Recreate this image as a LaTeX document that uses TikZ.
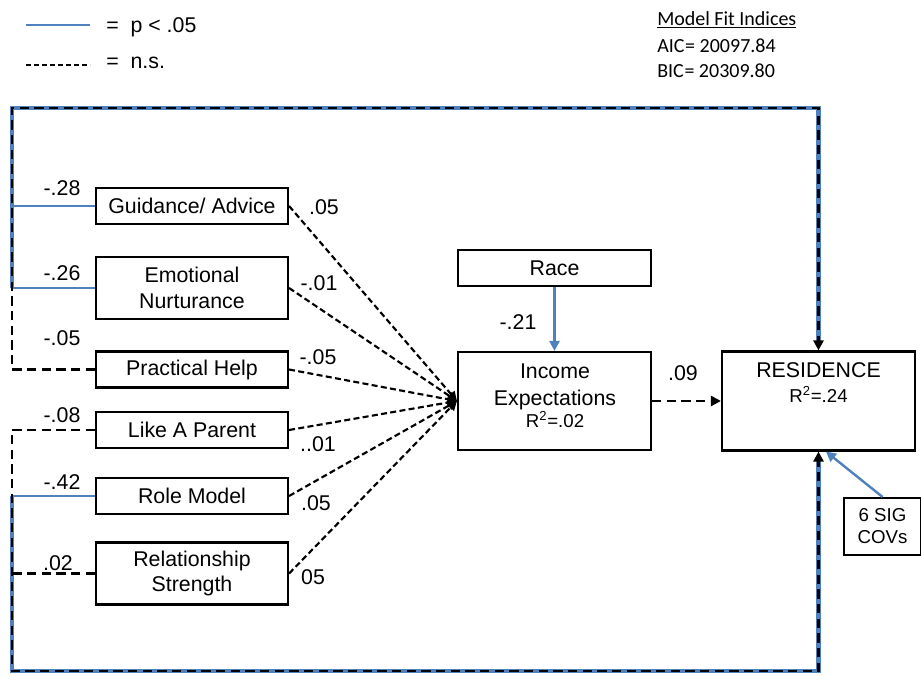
\documentclass[tikz,border=0pt]{standalone}
\usepackage{fontspec}
\setmainfont{Liberation Sans}
\newfontfamily\calib{Carlito}
\usetikzlibrary{arrows.meta}
\definecolor{sigblue}{RGB}{79,129,189}

\begin{document}
\begin{tikzpicture}[x=0.75pt,y=-0.75pt,
  every node/.style={font=\fontsize{16}{19}\selectfont},
  box/.style={draw, line width=1.6pt, align=center, inner sep=0pt,
              minimum width=144pt, minimum height=27pt},
  tall/.style={box, minimum height=46.5pt},
  lbl/.style={inner sep=0pt},
  small/.style={font=\fontsize{14}{16}\selectfont},
  sig/.style={draw=sigblue, line width=1.8pt},
  sigunder/.style={draw=sigblue, line width=3.2pt},
  ns/.style={draw=black, line width=2pt, dash pattern=on 7pt off 4pt},
  nsfine/.style={draw=black, line width=1.6pt, dash pattern=on 4.5pt off 2.5pt},
  tip/.style={-{Triangle[length=7.5pt,width=7.5pt]}},
  smalltip/.style={-{Triangle[length=7pt,width=7pt]}}
]
\useasboundingbox (0,0) rectangle (921,675);
\fill[white] (0,0) rectangle (921,675);

% legend
\coordinate (lgsa) at (26,25);
\coordinate (lgsb) at (90,25);
\coordinate (lgna) at (26,65);
\coordinate (lgnb) at (90,65);
\draw[sig, line width=2.2pt] (lgsa) -- (lgsb);
\draw[line width=1.8pt, dash pattern=on 4pt off 2pt] (lgna) -- (lgnb);
\node[lbl, anchor=west] (lgsig) at (106,27) {=~~p < .05};
\node[lbl, anchor=west] (lgns) at (106,63) {=~~n.s.};

% fit indices
\node[lbl, anchor=base west, font=\calib\fontsize{15}{18}\selectfont] (mfi) at (657,25) {\underline{Model Fit Indices}};
\node[lbl, anchor=base west, font=\calib\fontsize{15}{18}\selectfont] (aic) at (657,52) {AIC\kern0.5pt= 20097.84};
\node[lbl, anchor=base west, font=\calib\fontsize{15}{18}\selectfont] (bic) at (657,77) {BIC\kern0.5pt= 20309.80};

% predictors
\node[box] (guid) at (192,206) {Guidance/ Advice};
\node[tall] (emot) at (192,288) {Emotional\\Nurturance};
\node[box] (prac) at (192,369.5) {Practical Help};
\node[box] (like) at (192,430) {Like A Parent};
\node[box] (role) at (192,496) {Role Model};
\node[tall] (rel) at (192,573.5) {Relationship\\Strength};

% mediator and outcome
\node[box, minimum width=144.75pt] (race) at (554.5,268) {Race};
\node[box, minimum width=144.75pt, minimum height=73.5pt] (inc) at (554.5,401) {};
\node[lbl, anchor=base] (inca) at (555,378) {Income};
\node[lbl, anchor=base] (incb) at (555,405) {Expectations};
\node[lbl, anchor=base, small] (incc) at (555,427) {R\textsuperscript{2}=.02};

\node[box, minimum width=144.75pt, minimum height=74.25pt] (res) at (818.5,401) {};
\node[lbl, anchor=base] (resa) at (818.5,377) {RESIDENCE};
\node[lbl, anchor=base, small] (resb) at (818.5,402) {R\textsuperscript{2}=.24};

\node[box, minimum width=57.75pt, minimum height=42.75pt,
      font=\fontsize{14}{16.5}\selectfont] (cov) at (882.5,526.5) {6 SIG\\COVs};

% outer paths to RESIDENCE
\coordinate (tl) at (12,108);
\coordinate (bl) at (12,671);

\draw[sig] (guid.west) -- (guid.west -| tl);
\draw[sig] (emot.west) -- (emot.west -| tl);
\draw[sigunder, shorten >=7pt] (emot.west -| tl) -- (tl) -- (tl -| res.north) -- (res.north);
\draw[ns, tip] (prac.west) -- (prac.west -| tl) -- (tl) -- (tl -| res.north) -- (res.north);

\draw[sig] (role.west) -- (role.west -| bl);
\draw[sigunder, shorten >=7pt] (role.west -| bl) -- (bl) -- (bl -| res.south) -- (res.south);
\draw[ns, tip] (like.west) -- (like.west -| bl) -- (bl) -- (bl -| res.south) -- (res.south);
\draw[ns] (rel.west) -- (rel.west -| bl);

% paths to income expectations
\foreach \p in {guid,emot,prac,like,role,rel}
  \draw[nsfine, smalltip] (\p.east) -- (inc.west);
\draw[sig, tip] (race.south) -- (inc.north);
\draw[ns, tip] (inc.east) -- (res.west);
\draw[sig, tip] (cov.north) -- ([xshift=5.6pt]res.south);

% coefficients
\node[lbl] (c1) at (62,188) {-.28};
\node[lbl] (c2) at (62,273) {-.26};
\node[lbl] (c3) at (62,338) {-.05};
\node[lbl] (c4) at (62,415) {-.08};
\node[lbl] (c5) at (62,482) {-.42};
\node[lbl] (c6) at (58,563) {.02};

\node[lbl] (d1) at (324,207) {.05};
\node[lbl] (d2) at (319,283) {-.01};
\node[lbl] (d3) at (318,357) {-.05};
\node[lbl] (d4) at (318,444) {..01};
\node[lbl] (d5) at (316,503) {.05};
\node[lbl] (d6) at (313,577) {05};

\node[lbl] (e1) at (518,322) {-.21};
\node[lbl] (e2) at (683,373) {.09};
\end{tikzpicture}
\end{document}
